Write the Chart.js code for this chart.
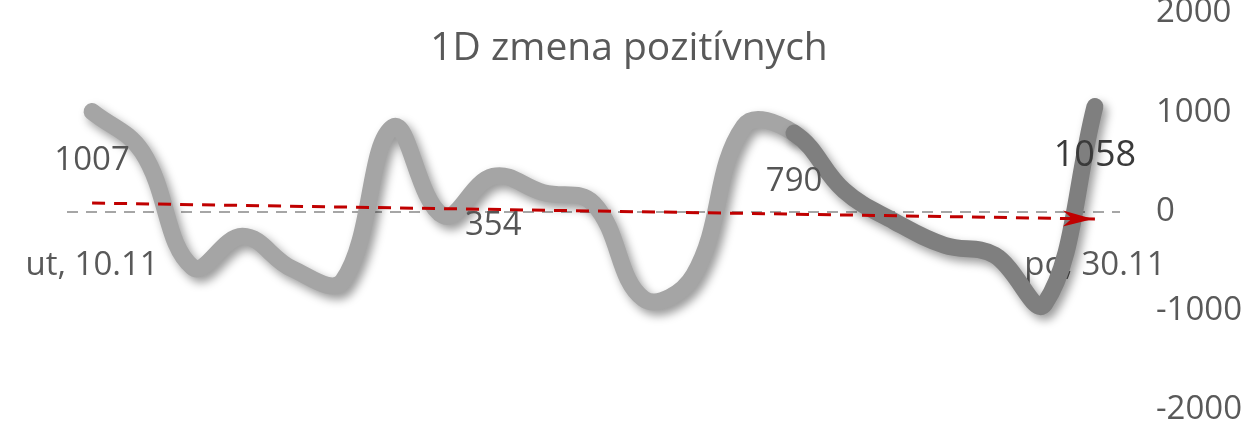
<!DOCTYPE html>
<html>
<head>
  <meta charset="UTF-8" />
  <title>1D zmena pozitívnych</title>
  <script src="https://cdn.jsdelivr.net/npm/chart.js@4.4.0/dist/chart.umd.min.js"></script>
  <style>
    html,body{margin:0;padding:0;background:#fff;}
    #wrap{width:1251px;height:435px;}
  </style>
</head>
<body>
  <div id="wrap"><canvas id="chart" width="1251" height="435"></canvas></div>
  <script>
    // dni 10.11 - 30.11
    const days=['ut, 10.11','st, 11.11','št, 12.11','pi, 13.11','so, 14.11','ne, 15.11','po, 16.11',
                'ut, 17.11','st, 18.11','št, 19.11','pi, 20.11','so, 21.11','ne, 22.11','po, 23.11',
                'ut, 24.11','st, 25.11','št, 26.11','pi, 27.11','so, 28.11','ne, 29.11','po, 30.11'];
    // denna zmena pozitivnych
    const changes=[1007,600,-560,-250,-580,-700,850,-40,354,190,80,-880,-640,860,790,210,-100,-340,-440,-930,1058];
    // trend (zaciatok, koniec) odcitany z grafu
    const trendEnds=[85,-75];
    const labeledIdx=[0,8,14,20];
    const yTicks=[-2000,-1000,0,1000,2000];
    const darkFrom=14;

    const FONT='"Open Sans", sans-serif';
    const light='#a5a5a5', dark='#7f7f7f';

    const trendData=days.map((d,i)=>i===0?trendEnds[0]:(i===days.length-1?trendEnds[1]:null));

    const shadowPlugin={
      id:'shadow',
      beforeDatasetDraw(chart,args){
        if(args.index!==1) return;
        const c=chart.ctx;
        c.save();
        c.shadowColor='rgba(0,0,0,0.4)';
        c.shadowBlur=10;
        c.shadowOffsetX=4;
        c.shadowOffsetY=5;
      },
      afterDatasetDraw(chart,args){
        if(args.index!==1) return;
        chart.ctx.restore();
      }
    };

    const arrowPlugin={
      id:'arrow',
      afterDatasetDraw(chart,args){
        if(args.index!==0) return;
        const pts=chart.getDatasetMeta(0).data;
        const a=pts[0], b=pts[pts.length-1];
        const ang=Math.atan2(b.y-a.y,b.x-a.x);
        const c=chart.ctx;
        c.save();
        c.translate(b.x-2,b.y);
        c.rotate(ang);
        c.fillStyle='#c00000';
        c.beginPath();
        c.moveTo(0,0);
        c.lineTo(-30,-8);
        c.lineTo(-21,0);
        c.lineTo(-30,8);
        c.closePath();
        c.fill();
        c.restore();
      }
    };

    const textPlugin={
      id:'texts',
      afterDatasetsDraw(chart){
        const c=chart.ctx;
        const pts=chart.getDatasetMeta(1).data;
        c.save();
        c.textAlign='center';
        c.textBaseline='middle';
        labeledIdx.forEach((i,k)=>{
          const last=k===labeledIdx.length-1;
          c.font=(last?'36px ':'33px ')+FONT;
          c.fillStyle=last?'#3a3a3a':'#555555';
          c.fillText(String(changes[i]),pts[i].x,pts[i].y+49);
        });
        c.font='39px '+FONT;
        c.fillStyle='#595959';
        c.textBaseline='alphabetic';
        c.fillText('1D zmena pozitívnych',629,60);
        c.restore();
      }
    };

    new Chart(document.getElementById('chart'),{
      type:'line',
      data:{
        labels:days,
        datasets:[
          {data:trendData,spanGaps:true,borderColor:'#c00000',borderWidth:3,borderDash:[13,9],
           pointRadius:0,tension:0,order:0},
          {data:changes,borderWidth:17,borderCapStyle:'round',borderJoinStyle:'round',
           borderColor:light,pointRadius:0,tension:0.4,order:1,
           segment:{borderColor:ctx=>ctx.p0DataIndex>=darkFrom?dark:light}}
        ]
      },
      options:{
        responsive:false,
        animation:false,
        layout:{padding:{left:67,top:13,bottom:25,right:0}},
        plugins:{legend:{display:false},tooltip:{enabled:false},title:{display:false}},
        scales:{
          x:{
            position:{y:0},
            offset:true,
            grid:{display:false,drawTicks:false},
            border:{display:false},
            afterFit:s=>{s.paddingLeft=0;s.paddingRight=0;},
            ticks:{
              autoSkip:false,maxRotation:0,minRotation:0,padding:34,
              color:'#595959',font:{family:FONT,size:33},
              callback:function(v,i){return (i===0||i===days.length-1)?this.getLabelForValue(v):'';}
            }
          },
          y:{
            position:'right',
            min:yTicks[0],max:yTicks[yTicks.length-1],
            grid:{display:true,drawTicks:false,lineWidth:2,
                  color:ctx=>ctx.tick&&ctx.tick.value===0?'#a6a6a6':'rgba(0,0,0,0)'},
            border:{display:false,dash:[11,8]},
            afterBuildTicks:s=>{s.ticks=yTicks.map(v=>({value:v}));},
            afterFit:s=>{s.width=131;s.paddingTop=0;s.paddingBottom=0;},
            ticks:{padding:36,color:'#595959',font:{family:FONT,size:33},callback:v=>String(v)}
          }
        }
      },
      plugins:[shadowPlugin,arrowPlugin,textPlugin]
    });
  </script>
</body>
</html>
